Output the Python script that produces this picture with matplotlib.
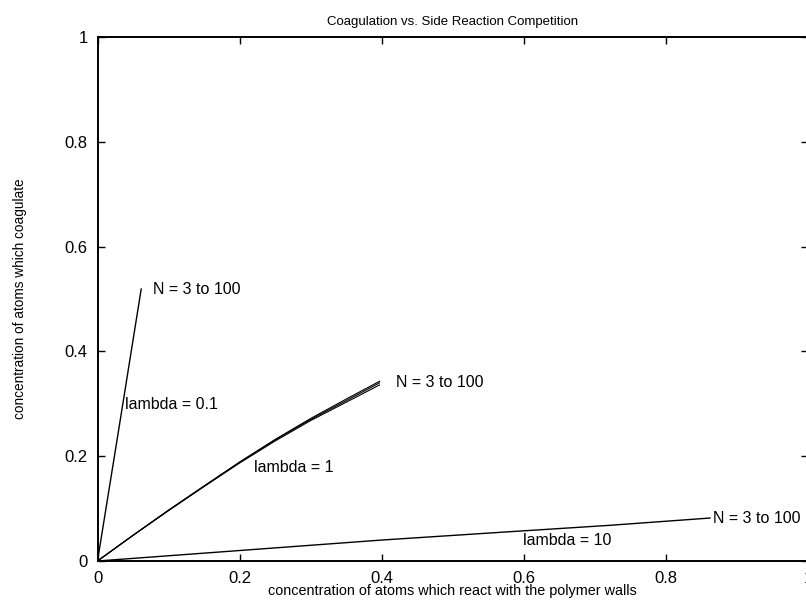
import matplotlib.pyplot as plt
import numpy as np

plt.rcParams['font.family'] = ['Liberation Sans', 'DejaVu Sans']

# curves, one family per lambda
x_l01 = [0, 0.03, 0.0615]
y_l01 = [0, 0.252, 0.519]

x_l1 = [0, 0.05, 0.1, 0.15, 0.2, 0.25, 0.3, 0.35, 0.397]
y_l1_a = [0, 0.049, 0.097, 0.143, 0.189, 0.232, 0.272, 0.309, 0.343]
y_l1_b = [0, 0.049, 0.097, 0.143, 0.188, 0.231, 0.270, 0.306, 0.340]
y_l1_c = [0, 0.049, 0.096, 0.142, 0.187, 0.229, 0.268, 0.303, 0.336]

x_l10 = [0, 0.2, 0.4, 0.57, 0.72, 0.862]
y_l10 = [0, 0.02, 0.04, 0.055, 0.068, 0.082]

ticks = [0, 0.2, 0.4, 0.6, 0.8, 1]
tick_labels = ['0', '0.2', '0.4', '0.6', '0.8', '1']

fig = plt.figure(figsize=(8.06, 6.02), dpi=100)
ax = fig.add_axes([97.5 / 806, 41 / 602, 710.5 / 806, 524 / 602])

ax.plot(x_l01, y_l01, color='black', lw=1.0)
for yy in (y_l1_a, y_l1_b, y_l1_c):
    ax.plot(x_l1, yy, color='black', lw=0.8)
ax.plot(x_l10, y_l10, color='black', lw=1.0)

fs = 11.5
ax.text(0.0775, 0.519, 'N = 3 to 100', fontsize=fs, va='center')
ax.text(0.039, 0.298, 'lambda = 0.1', fontsize=fs, va='center')
ax.text(0.42, 0.341, 'N = 3 to 100', fontsize=fs, va='center')
ax.text(0.22, 0.179, 'lambda = 1', fontsize=fs, va='center')
ax.text(0.866, 0.082, 'N = 3 to 100', fontsize=fs, va='center')
ax.text(0.599, 0.040, 'lambda = 10', fontsize=fs, va='center')

ax.set_xlim(0, 1)
ax.set_ylim(0, 1)
ax.set_xticks(ticks)
ax.set_xticklabels(tick_labels)
ax.set_yticks(ticks)
ax.set_yticklabels(tick_labels)
ax.tick_params(direction='in', length=5, width=1, top=True, right=True,
               labelsize=12, pad=7, colors='black')
for s in ax.spines.values():
    s.set_linewidth(1.4)

ax.set_title('Coagulation vs. Side Reaction Competition', fontsize=9.5, pad=9)
ax.set_xlabel('concentration of atoms which react with the polymer walls', fontsize=10.4, labelpad=-1)
ax.set_ylabel('concentration of atoms which coagulate', fontsize=9.8, labelpad=27)

fig.savefig('out.png', dpi=100)
